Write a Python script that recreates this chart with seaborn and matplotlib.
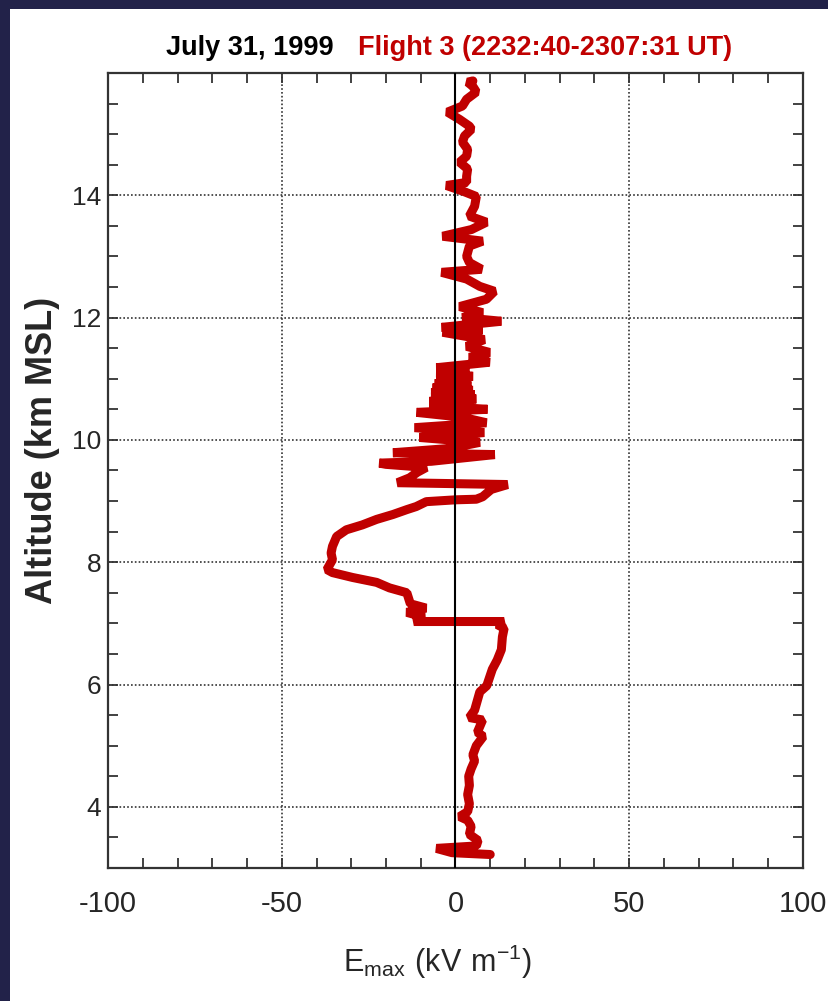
import numpy as np
import pandas as pd
import matplotlib.pyplot as plt
import seaborn as sns
from matplotlib.patches import Rectangle
from matplotlib.ticker import MultipleLocator

# E field (kV/m) vs altitude (km MSL) from bottom to top
efield = [10.0, -1.0, -5.5, 6.0, 6.5, 4.0, 4.5, 3.5, 1.2, 3.5, 4.0, 3.5, 4.0, 3.8,
          4.5, 5.5, 5.0, 6.0, 8.0, 6.3, 7.8, 4.0, 5.5, 7.0, 9.0, 10.6, 12.0, 13.2,
          13.5, 14.0, 12.0, 14.0, -12.0, -9.0, -14.0, -8.5, -13.0, -14.0, -19.0,
          -22.7, -29.6, -35.4, -37.0, -35.4, -35.8, -35.4, -34.2, -31.4, -26.8,
          -22.7, -18.0, -14.0, -11.3, -8.4, 0.0, 6.0, 7.8, 10.3, 15.0, -16.7,
          -13.2, -11.0, -8.4, -20.0, -21.9, -7.0, 11.3, -18.0, -1.7, 7.0, -10.4,
          8.3, -11.8, 8.9, 2.0, -11.2, 9.2, -7.5, 5.0, -7.5, 6.0, -7.0, 5.5, -7.0,
          5.0, -6.6, 4.5, -6.0, 4.5, -5.5, 5.0, -5.5, 4.0, -5.5, 9.8, 4.0, 9.8,
          3.2, 8.3, -3.7, 7.8, -4.0, 13.2, 2.0, 7.8, 1.2, 8.9, 11.2, 7.0, 3.2,
          -4.0, 7.5, 4.0, 3.2, 4.0, 7.8, -3.7, 4.6, 8.9, 4.0, 5.5, 6.0, 2.0, -2.6,
          3.2, 3.2, 3.5, 1.2, 3.2, 3.5, 2.0, 2.6, 4.6, 4.0, 1.2, -2.3, 2.0, 3.2,
          6.0, 5.0, 3.5, 5.0]
altitude = [3.22, 3.25, 3.32, 3.36, 3.45, 3.55, 3.68, 3.78, 3.84, 3.92, 4.05, 4.20,
            4.35, 4.50, 4.62, 4.75, 4.85, 5.00, 5.15, 5.22, 5.42, 5.46, 5.58, 5.88,
            5.98, 6.25, 6.40, 6.57, 6.78, 6.92, 6.98, 7.03, 7.03, 7.10, 7.18, 7.25,
            7.32, 7.50, 7.58, 7.67, 7.75, 7.83, 7.88, 8.04, 8.15, 8.26, 8.42, 8.53,
            8.61, 8.70, 8.78, 8.86, 8.91, 8.99, 9.02, 9.03, 9.07, 9.19, 9.27, 9.30,
            9.38, 9.47, 9.55, 9.60, 9.62, 9.65, 9.76, 9.79, 9.86, 9.96, 10.04,
            10.12, 10.20, 10.28, 10.37, 10.45, 10.50, 10.56, 10.60, 10.63, 10.67,
            10.70, 10.74, 10.77, 10.81, 10.85, 10.88, 10.92, 10.95, 10.99, 11.04,
            11.10, 11.14, 11.18, 11.27, 11.35, 11.43, 11.53, 11.64, 11.76, 11.80,
            11.84, 11.94, 12.00, 12.08, 12.18, 12.30, 12.43, 12.51, 12.63, 12.74,
            12.79, 12.90, 13.00, 13.17, 13.25, 13.33, 13.44, 13.56, 13.66, 13.82,
            13.98, 14.07, 14.16, 14.21, 14.31, 14.43, 14.54, 14.64, 14.75, 14.87,
            14.97, 15.08, 15.13, 15.24, 15.36, 15.46, 15.57, 15.69, 15.78, 15.85,
            15.87]

x_ticks = [-100, -50, 0, 50, 100]
y_ticks = [4, 6, 8, 10, 12, 14]

red = '#c00000'

sns.set_style('ticks')
plt.rcParams['font.family'] = ['Liberation Sans', 'DejaVu Sans']
plt.rcParams['axes.unicode_minus'] = False
plt.rcParams['mathtext.fontset'] = 'custom'
plt.rcParams['mathtext.rm'] = 'Liberation Sans'

df = pd.DataFrame({'E': efield, 'alt': altitude})

fig = plt.figure(figsize=(8.29, 10.01), dpi=100, facecolor='#222249')
# white panel inside the dark frame
fig.add_artist(Rectangle((10 / 829, 0), 1, 1 - 9 / 1001, transform=fig.transFigure,
                         facecolor='white', edgecolor='none', zorder=-1))
ax = fig.add_axes([0.1303, 0.1329, 0.8383, 0.7942])
ax.set_facecolor('white')

sns.lineplot(data=df, x='E', y='alt', sort=False, estimator=None, color=red,
             lw=6.5, solid_joinstyle='bevel', ax=ax, zorder=2)
ax.axvline(0, color='black', lw=1.5, zorder=3)

ax.set_xlim(-100, 100)
ax.set_ylim(3, 16)
ax.set_xticks(x_ticks)
ax.set_yticks(y_ticks)
ax.xaxis.set_minor_locator(MultipleLocator(10))
ax.yaxis.set_minor_locator(MultipleLocator(0.5))
ax.set_axisbelow(True)
ax.grid(True, which='major', ls=(0, (1, 1.3)), color='#333333', lw=1.2)
ax.tick_params(which='both', direction='in', top=True, right=True, width=1.3,
               length=7, color='#333333')
ax.tick_params(axis='x', pad=16, labelsize=21)
ax.tick_params(axis='y', pad=5, labelsize=19)
for sp in ax.spines.values():
    sp.set_linewidth(1.6)
    sp.set_color('#333333')

ax.set_xlabel('')
ax.set_ylabel('Altitude (km MSL)', fontsize=26, fontweight='bold')
ax.yaxis.set_label_coords(-0.069, 0.525)

fig.text(437 / 829, 1 - 962 / 1001, r'$\mathrm{E_{max}\ (kV\ m^{-1})}$',
         fontsize=22, ha='center', va='center')

# title in two colours
fig.text(334 / 829, 1 - 55 / 1001, 'July 31, 1999', fontsize=19.5, fontweight='bold',
         color='black', ha='right', va='baseline')
fig.text(358 / 829, 1 - 55 / 1001, 'Flight 3 (2232:40-2307:31 UT)', fontsize=19.5,
         fontweight='bold', color=red, ha='left', va='baseline')

plt.savefig('out.png', dpi=100, facecolor=fig.get_facecolor())
